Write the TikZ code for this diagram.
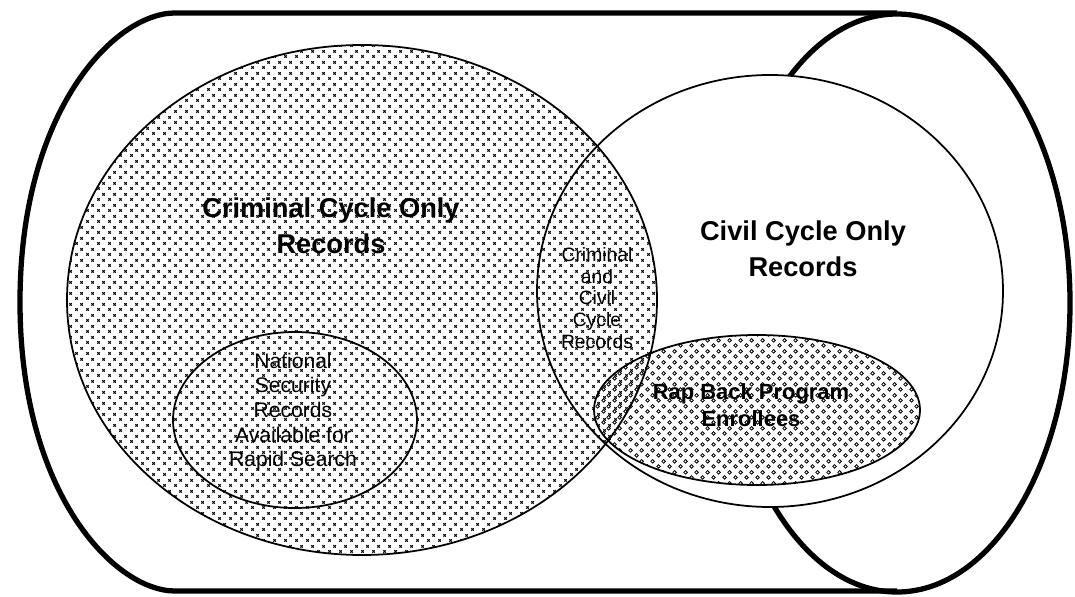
\documentclass[tikz,border=0pt]{standalone}
\usepackage{fontspec}
\setmainfont{Liberation Sans}
\usetikzlibrary{patterns}
\pgfdeclarepatternformonly{xmarks}{\pgfpointorigin}{\pgfqpoint{6pt}{6pt}}{\pgfqpoint{6pt}{6pt}}{%
  \pgfsetlinewidth{0.6pt}%
  \pgfpathmoveto{\pgfqpoint{0.8pt}{0.8pt}}\pgfpathlineto{\pgfqpoint{2.2pt}{2.2pt}}%
  \pgfpathmoveto{\pgfqpoint{0.8pt}{2.2pt}}\pgfpathlineto{\pgfqpoint{2.2pt}{0.8pt}}%
  \pgfpathmoveto{\pgfqpoint{3.8pt}{3.8pt}}\pgfpathlineto{\pgfqpoint{5.2pt}{5.2pt}}%
  \pgfpathmoveto{\pgfqpoint{3.8pt}{5.2pt}}\pgfpathlineto{\pgfqpoint{5.2pt}{3.8pt}}%
  \pgfusepath{stroke}}
\pgfdeclarepatternformonly{smallrings}{\pgfpointorigin}{\pgfqpoint{6pt}{6pt}}{\pgfqpoint{6pt}{6pt}}{%
  \pgfsetlinewidth{0.45pt}%
  \pgfpathcircle{\pgfqpoint{1.5pt}{1.5pt}}{1.05pt}%
  \pgfpathcircle{\pgfqpoint{4.5pt}{4.5pt}}{1.05pt}%
  \pgfusepath{stroke}}
\tikzset{
  outerline/.style={line width=3pt},
  setline/.style={line width=1pt},
  biglabel/.style={font=\bfseries\fontsize{15.5}{20.5}\selectfont, align=center, inner sep=0pt},
  raplabel/.style={font=\bfseries\fontsize{12.5}{15}\selectfont, align=center, inner sep=0pt},
  nslabel/.style={font=\fontsize{12}{14}\selectfont, align=center, inner sep=0pt},
  lenslabel/.style={font=\fontsize{11}{12.3}\selectfont, align=center, inner sep=0pt}
}
\begin{document}
\begin{tikzpicture}[x=0.02cm,y=0.02cm]
\useasboundingbox (0,0) rectangle (1075,596);
% coordinates
\coordinate (crimC) at (362,296);
\coordinate (civC) at (770,305);
\coordinate (rapC) at (757,186);
\coordinate (natC) at (295,176);
\coordinate (rightC) at (897,293);
\coordinate (topR) at (897,583);
\coordinate (topL) at (175,583);
\coordinate (leftM) at (20,294);
\coordinate (botL) at (175,5);
\coordinate (botR) at (897,5);
% outer boundary
\draw[outerline] (topR) -- (topL) .. controls (115,583) and (20,486) .. (leftM)
  .. controls (20,102) and (115,5) .. (botL) -- (botR);
\draw[outerline] (rightC) ellipse [x radius=173, y radius=289];
% civil set (white, hides the right boundary behind it)
\fill[white] (civC) ellipse [x radius=233, y radius=216];
% rap back
\fill[pattern=smallrings] (rapC) ellipse [x radius=163, y radius=75];
% criminal
\fill[pattern=xmarks] (crimC) ellipse [x radius=295, y radius=255];
% outlines
\draw[setline] (crimC) ellipse [x radius=295, y radius=255];
\draw[setline] (civC) ellipse [x radius=233, y radius=216];
\draw[setline] (rapC) ellipse [x radius=163, y radius=75];
\draw[setline] (natC) ellipse [x radius=122, y radius=88];
% labels
\node[biglabel] (crimT) at (331,370) {Criminal Cycle Only\\Records};
\node[biglabel] (civT) at (803,347) {Civil Cycle Only\\Records};
\node[lenslabel] (lensT) at (597,298) {Criminal\\and\\Civil\\Cycle\\Records};
\node[nslabel] (natT) at (293,184) {National\\Security\\Records\\Available for\\Rapid Search};
\node[raplabel] (rapT) at (751,191) {Rap Back Program\\Enrollees};
\end{tikzpicture}
\end{document}
